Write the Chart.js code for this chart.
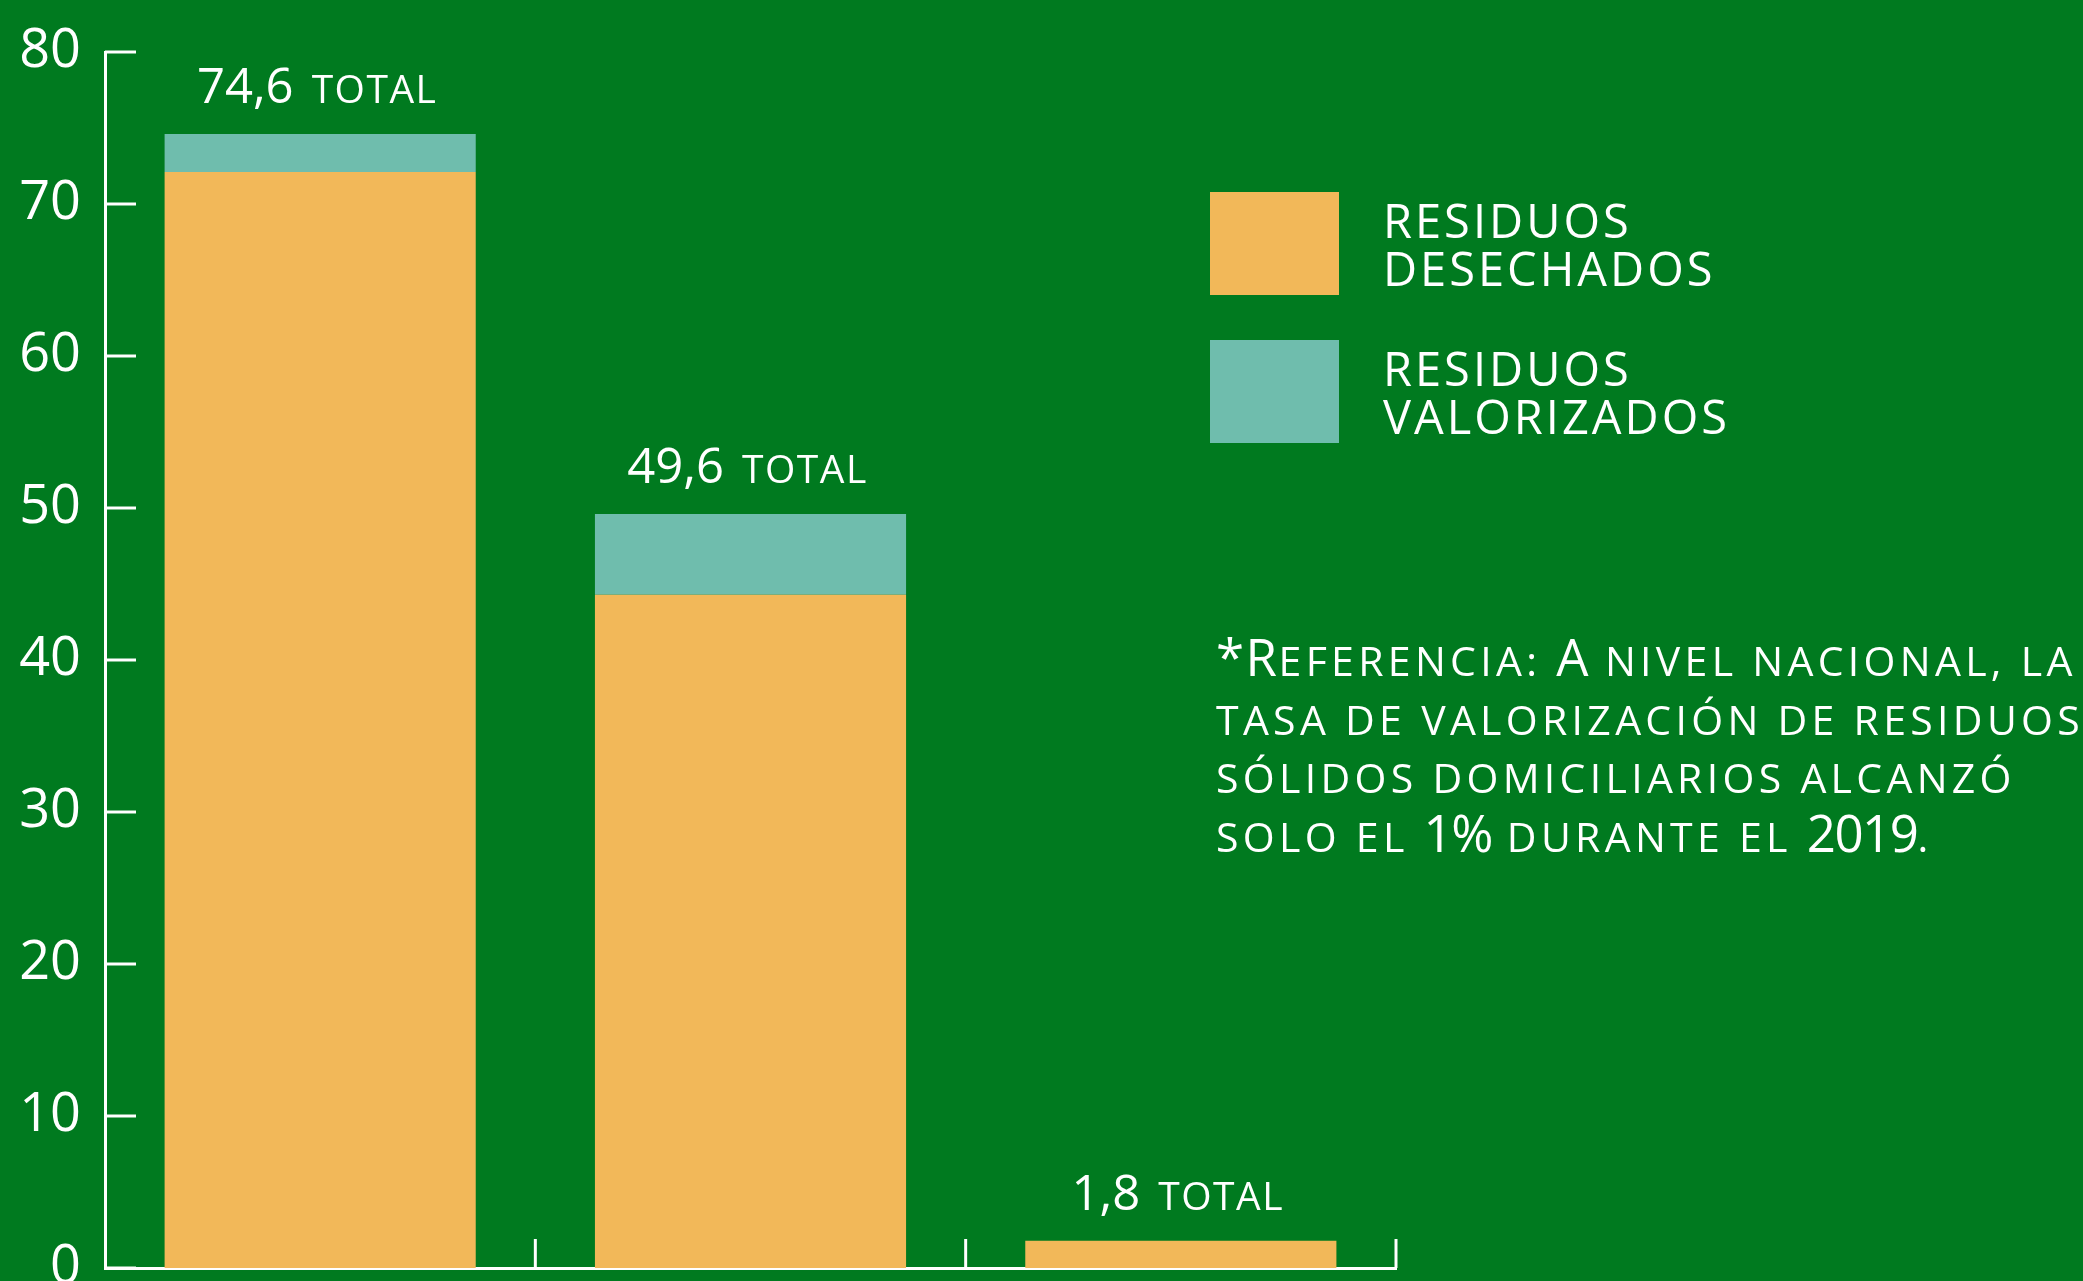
<!DOCTYPE html>
<html>
<head>
<meta charset="utf-8">
<script src="https://cdn.jsdelivr.net/npm/chart.js@4.4.1/dist/chart.umd.min.js"></script>
<style>
html,body{margin:0;padding:0;background:#007A1F;width:2083px;height:1281px;overflow:hidden;}
#wrap{position:absolute;left:0;top:0;width:2083px;height:1330px;}
canvas{position:absolute;left:0;top:0;}
.legend-item{position:absolute;left:1210px;width:600px;height:110px;}
.swatch{position:absolute;left:0;top:0;width:129px;height:103px;}
.ltext{position:absolute;left:173px;top:4px;font:400 47px/48px "Open Sans";letter-spacing:3px;color:#fff;white-space:nowrap;}
#note{position:absolute;left:1216px;top:627px;font:400 51px/58.7px "Open Sans";color:#fff;white-space:nowrap;}
#note .sc{font-size:41px;line-height:1;text-transform:uppercase;letter-spacing:4.3px;}
#note .bg{letter-spacing:1.5px;}
#note .num{letter-spacing:-1.5px;}
</style>
</head>
<body>
<div id="wrap"><canvas id="c" width="2083" height="1330"></canvas></div>
<div id="legend"></div>
<div id="note"></div>
<script>
// ---- data ----
const categories = ['Barra 1', 'Barra 2', 'Barra 3'];
const seriesNames = [['RESIDUOS', 'DESECHADOS'], ['RESIDUOS', 'VALORIZADOS']];
const desechados = [72.1, 44.3, 1.8];
const valorizados = [2.5, 5.3, 0];
const yTickValues = [0, 10, 20, 30, 40, 50, 60, 70, 80];
const totalWord = 'TOTAL';
const noteLines = [
  '*Referencia: A nivel nacional, la',
  'tasa de valorización de residuos',
  'sólidos domiciliarios alcanzó',
  'solo el 1% durante el 2019.'
];
const colors = ['#F2B859', '#6FBDAD'];

// ---- plugins ----
const innerTicks = {
  id: 'innerTicks',
  afterDraw(chart) {
    const {ctx, chartArea} = chart;
    const x = chart.scales.x, y = chart.scales.y;
    ctx.save();
    ctx.strokeStyle = '#ffffff';
    ctx.lineWidth = 3;
    y.ticks.forEach(t => {
      const py = y.getPixelForValue(t.value);
      ctx.beginPath();
      ctx.moveTo(chartArea.left, py);
      ctx.lineTo(chartArea.left + 31, py);
      ctx.stroke();
    });
    for (let i = 0; i < categories.length; i++) {
      const px = x.getPixelForValue(i + 0.5);
      ctx.beginPath();
      ctx.moveTo(px, chartArea.bottom);
      ctx.lineTo(px, chartArea.bottom - 29);
      ctx.stroke();
    }
    ctx.restore();
  }
};

const totalLabels = {
  id: 'totalLabels',
  afterDatasetsDraw(chart) {
    const {ctx} = chart;
    const x = chart.scales.x, y = chart.scales.y;
    ctx.save();
    ctx.fillStyle = '#ffffff';
    ctx.textBaseline = 'alphabetic';
    ctx.textAlign = 'left';
    categories.forEach((c, i) => {
      const total = desechados[i] + valorizados[i];
      const num = total.toFixed(1).replace('.', ',');
      ctx.font = '400 49px "Open Sans"';
      ctx.letterSpacing = '0px';
      const nw = ctx.measureText(num).width;
      ctx.font = '400 39px "Open Sans"';
      ctx.letterSpacing = '1.5px';
      const tw = ctx.measureText(totalWord).width;
      const gap = 18;
      const w = nw + gap + tw;
      const sx = x.getPixelForValue(i) - w / 2 - 3;
      const by = y.getPixelForValue(total) - 31;
      ctx.font = '400 49px "Open Sans"';
      ctx.letterSpacing = '0px';
      ctx.fillText(num, sx, by);
      ctx.font = '400 39px "Open Sans"';
      ctx.letterSpacing = '1.5px';
      ctx.fillText(totalWord, sx + nw + gap, by);
    });
    ctx.restore();
  }
};

const chart = new Chart(document.getElementById('c'), {
  type: 'bar',
  data: {
    labels: categories,
    datasets: [
      {label: seriesNames[0].join(' '), data: desechados, backgroundColor: colors[0], borderWidth: 0},
      {label: seriesNames[1].join(' '), data: valorizados, backgroundColor: colors[1], borderWidth: 0}
    ]
  },
  options: {
    responsive: false,
    devicePixelRatio: 1,
    animation: false,
    layout: {padding: {top: 52, right: 687, left: 0, bottom: 0}},
    plugins: {legend: {display: false}, tooltip: {enabled: false}},
    datasets: {bar: {categoryPercentage: 1, barPercentage: 0.723}},
    scales: {
      x: {
        stacked: true,
        offset: true,
        grid: {display: false},
        border: {display: true, color: '#ffffff', width: 3},
        ticks: {display: false},
        afterFit(s) { s.height = 62; }
      },
      y: {
        stacked: true,
        min: 0,
        max: 80,
        afterBuildTicks(s) { s.ticks = yTickValues.map(v => ({value: v})); },
        grid: {display: false, drawTicks: false},
        border: {display: true, color: '#ffffff', width: 3},
        ticks: {
          color: '#ffffff',
          padding: 24,
          font: {family: 'Open Sans', size: 54, weight: '400'},
          callback: v => String(v)
        },
        afterFit(s) { s.width = 105; s.paddingTop = 20; s.paddingBottom = 20; }
      }
    }
  },
  plugins: [innerTicks, totalLabels]
});

// ---- HTML legend built from the datasets ----
const legend = document.getElementById('legend');
const tops = [192, 340];
chart.data.datasets.forEach((ds, i) => {
  const item = document.createElement('div');
  item.className = 'legend-item';
  item.style.top = tops[i] + 'px';
  const sw = document.createElement('div');
  sw.className = 'swatch';
  sw.style.background = ds.backgroundColor;
  const tx = document.createElement('div');
  tx.className = 'ltext';
  seriesNames[i].forEach((line, k) => {
    if (k) tx.appendChild(document.createElement('br'));
    tx.appendChild(document.createTextNode(line));
  });
  item.appendChild(sw);
  item.appendChild(tx);
  legend.appendChild(item);
});

// ---- note: capitals, digits and % full size; lowercase as small capitals ----
const note = document.getElementById('note');
noteLines.forEach((line, k) => {
  if (k) note.appendChild(document.createElement('br'));
  const runs = line.match(/([0-9%]+|[A-Z*]+|[^A-Z0-9%*]+)/g);
  runs.forEach(r => {
    const s = document.createElement('span');
    s.className = /^[0-9%]/.test(r) ? 'num' : (/^[A-Z*]/.test(r) ? 'bg' : 'sc');
    s.textContent = r;
    note.appendChild(s);
  });
});
</script>
</body>
</html>
